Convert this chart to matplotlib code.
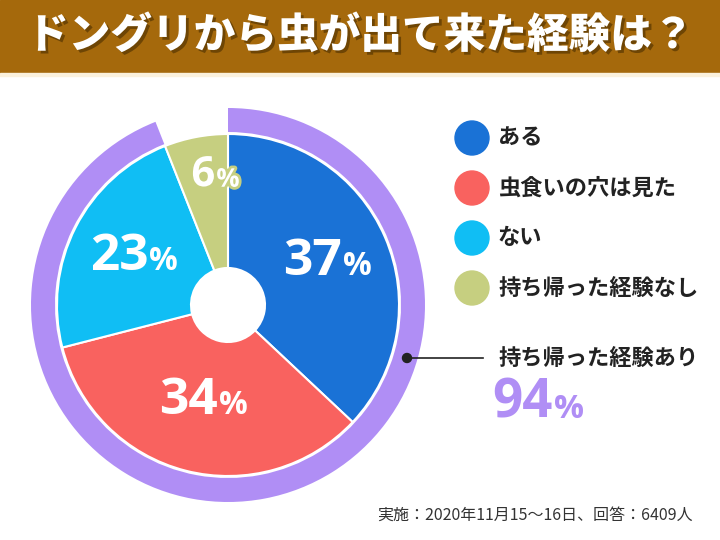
import matplotlib
matplotlib.use('Agg')
import matplotlib.pyplot as plt
import matplotlib.patheffects as pe
from matplotlib.patches import Rectangle, Circle
import numpy as np

plt.rcParams['font.family'] = ['Noto Sans CJK JP', 'DejaVu Sans']

title = 'ドングリから虫が出て来た経験は？'
categories = ['ある', '虫食いの穴は見た', 'ない', '持ち帰った経験なし']
shares = [37, 34, 23, 6]
ring_label = '持ち帰った経験あり'
ring_share = 94
note = '実施：2020年11月15～16日、回答：6409人'

colors = ['#1A72D6', '#F9625F', '#10BEF4', '#C6CF80']
ring_color = '#B08EF5'
banner_color = '#A5690C'

# layout (pixel units, y up)
W, H = 720, 540
cx, cy = 228, 235
r_pie, r_hole = 171, 37
r_ring, ring_w = 197, 24
label_r = [0.63, 0.58, 0.62, 0.77]
label_size = [37, 37, 37, 30]

fig = plt.figure(figsize=(7.2, 5.4), dpi=100)
ax = fig.add_axes([0, 0, 1, 1])
ax.set_xlim(0, W)
ax.set_ylim(0, H)
ax.set_aspect('equal')
ax.axis('off')

# banner
ax.add_patch(Rectangle((0, H - 73), W, 73, color=banner_color, zorder=1))
ax.add_patch(Rectangle((0, H - 76), W, 3, color='#FBF1DC', zorder=1))
ax.text(W / 2, H - 36, title, color='white', fontsize=30, fontweight='heavy',
        ha='center', va='center', zorder=3,
        path_effects=[pe.withSimplePatchShadow(offset=(2, -2), shadow_rgbFace='#4a2e00', alpha=0.6)])

# outer ring (94%)
ax.pie([ring_share, 100 - ring_share], colors=[ring_color, 'none'], radius=r_ring,
       center=(cx, cy), startangle=90, counterclock=False,
       wedgeprops=dict(width=ring_w, linewidth=0))

# main donut
ax.pie(shares, colors=colors, radius=r_pie, center=(cx, cy), startangle=90,
       counterclock=False, wedgeprops=dict(width=r_pie - r_hole, edgecolor='white', linewidth=1.5))
ax.set_xlim(0, W)
ax.set_ylim(0, H)

# percent labels
cum = np.cumsum([0] + shares)
for i, v in enumerate(shares):
    mid = np.deg2rad(90 - 3.6 * (cum[i] + v / 2))
    x = cx + label_r[i] * r_pie * np.cos(mid)
    y = cy + label_r[i] * r_pie * np.sin(mid)
    fs = label_size[i]
    eff = [pe.withStroke(linewidth=4, foreground=colors[3])] if i == 3 else None
    off = fs * 0.40
    ax.text(x + off, y, str(v), color='white', fontsize=fs, fontweight='bold',
            family='Open Sans', ha='right', va='center', zorder=5, path_effects=eff)
    ax.text(x + off + 1, y - fs * 0.12, '%', color='white', fontsize=fs * 0.62,
            fontweight='bold', family='Open Sans', ha='left', va='center', zorder=5,
            path_effects=eff)

# legend
lx, ly0, step = 472, H - 138, 50
for i, (c, lab) in enumerate(zip(categories, colors)):
    y = ly0 - i * step
    ax.add_patch(Circle((lx, y), 17, color=lab, zorder=4))
    ax.text(498, y, c, fontsize=16, fontweight='bold', color='#222222',
            ha='left', va='center')

# ring callout
ax.plot([407, 483], [H - 358, H - 358], color='#222222', lw=1.2, zorder=6)
ax.add_patch(Circle((407, H - 358), 4.5, color='#222222', zorder=7))
ax.text(498, H - 358, ring_label, fontsize=16, fontweight='bold', color='#222222',
        ha='left', va='center')
ax.text(553, H - 404, str(ring_share), fontsize=38, fontweight='bold', family='Open Sans',
        color=ring_color, ha='right', va='center')
ax.text(554, H - 409, '%', fontsize=24, fontweight='bold', family='Open Sans',
        color=ring_color, ha='left', va='center')

# note
ax.text(693, H - 515, note, fontsize=11.5, color='#333333', ha='right', va='center')

fig.savefig('out.png', dpi=100, facecolor='white')
